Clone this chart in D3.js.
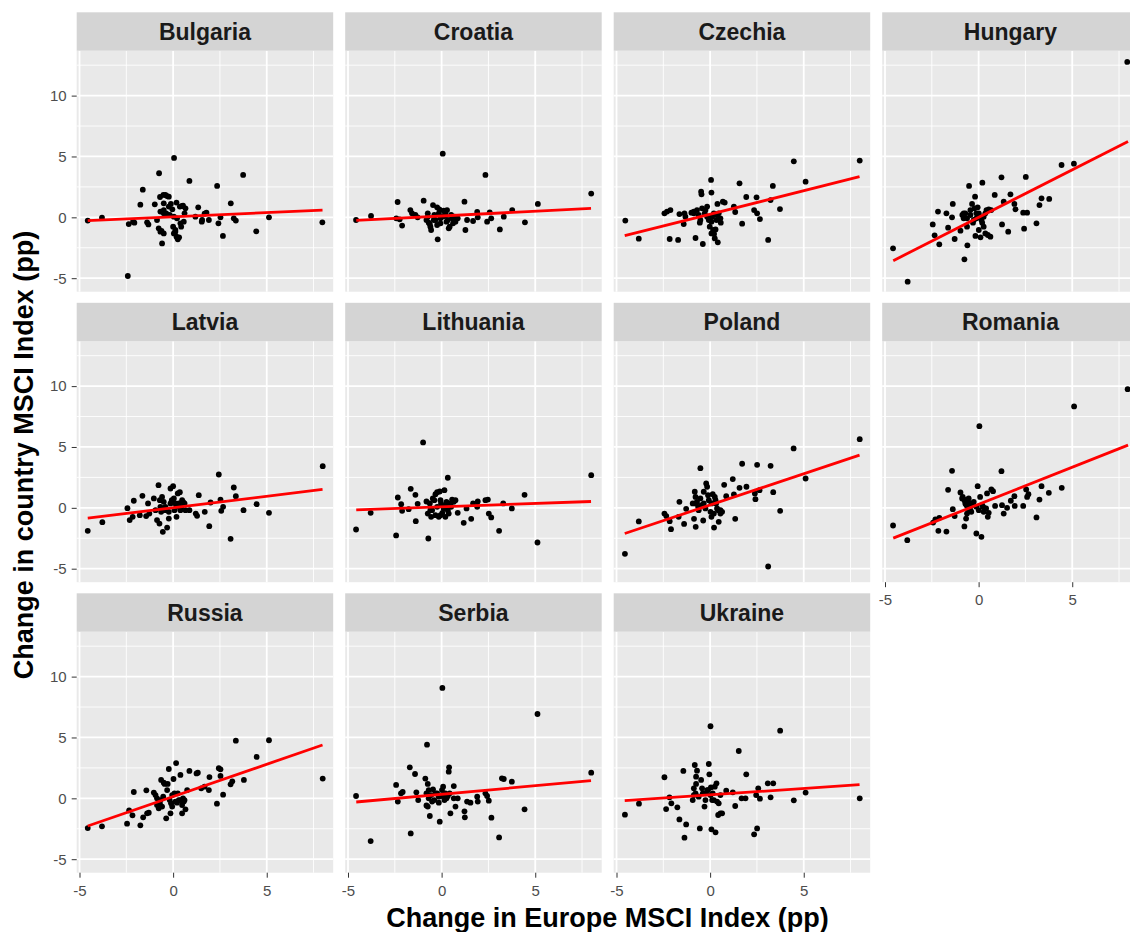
<!DOCTYPE html>
<html>
<head>
<meta charset="utf-8">
<script src="https://cdn.jsdelivr.net/npm/d3@7"></script>
<style>
  html, body { margin: 0; padding: 0; background: #ffffff; }
  svg { display: block; font-family: "Liberation Sans", Arial, Helvetica, sans-serif; }
</style>
</head>
<body>
<svg id="chart" width="1130" height="932"></svg>
<script>
// ---------- DATA ----------
const countries = ["Bulgaria", "Croatia", "Czechia", "Hungary", "Latvia", "Lithuania",
                   "Poland", "Romania", "Russia", "Serbia", "Ukraine"];

const bulgaria = [[-4.56,-0.27],[-3.80,-0.03],[-2.42,-4.82],[-2.37,-0.55],[-2.14,-0.36],[-2.07,-0.44],[-1.75,1.04],[-1.62,2.27],[-1.39,-0.41],[-1.32,-0.58],[-0.98,1.07],[-0.75,3.62],[-0.86,-0.22],[-0.77,-0.90],[-0.62,-1.12],[-0.59,-2.14],[-0.70,1.67],[-0.52,1.84],[-0.37,0.33],[-0.50,0.60],[-0.32,1.75],[-0.23,0.88],[-0.18,0.19],[-0.12,1.10],[-0.04,0.66],[0.05,4.88],[0.04,0.05],[0.00,-0.77],[0.04,-1.32],[0.12,-1.04],[0.18,1.21],[0.25,-1.81],[0.32,-1.64],[0.36,0.88],[0.43,-0.77],[0.53,0.96],[0.61,0.33],[0.66,0.74],[0.57,-0.36],[0.87,2.99],[1.19,0.05],[1.34,0.82],[1.53,-0.36],[1.68,0.30],[1.78,0.38],[1.91,-0.22],[2.35,2.58],[2.42,-0.49],[2.53,0.00],[2.66,-1.53],[3.08,1.15],[3.24,-0.08],[3.35,-0.27],[3.74,3.48],[4.44,-1.15],[5.12,0.00],[7.97,-0.41],
  [-0.41,1.84],[-0.23,1.70],[0.48,0.93],[-0.50,1.15],[-0.68,0.47],[-0.50,0.33],[0.21,-0.08],[0.39,-0.49],[-0.68,-1.18],[-0.50,-1.32],[0.12,-1.18],[0.18,-1.59],[1.55,-0.22]];
const croatia = [[-4.57,-0.22],[-3.77,0.11],[-2.35,1.26],[-2.42,-0.08],[-2.11,-0.68],[-2.24,-0.16],[-1.67,0.60],[-1.58,0.33],[-1.40,0.19],[-1.28,0.00],[-0.96,1.37],[-0.81,-0.22],[-0.74,0.33],[-0.69,-0.44],[-0.60,-0.77],[-0.56,-1.04],[-0.46,1.01],[-0.39,0.19],[-0.24,0.82],[-0.21,-1.81],[-0.12,0.66],[-0.06,-0.08],[0.02,0.05],[0.06,5.23],[0.11,0.55],[0.20,0.33],[0.26,-0.36],[0.33,-0.22],[0.43,-0.77],[0.51,0.19],[0.61,-0.49],[0.74,-0.36],[0.86,-0.08],[1.22,1.29],[1.27,-1.04],[1.36,-0.22],[1.68,-0.30],[1.90,0.44],[1.93,0.00],[2.34,3.48],[2.43,-0.36],[2.57,0.41],[2.65,-0.08],[3.11,-0.99],[3.32,0.05],[3.77,0.60],[4.45,-0.41],[5.14,1.10],[7.99,1.95],
  [-0.74,0.05],[-0.63,-0.55],[-0.33,-0.22],[-0.15,0.33],[-0.06,-0.49],[0.15,0.11],[0.29,0.60],[0.38,-0.90],[0.56,-0.08],[0.69,0.05],[-0.42,-0.22],[-0.24,-0.63]];
const czechia = [[-4.53,-0.27],[-3.81,-1.75],[-2.44,0.33],[-2.30,0.47],[-2.12,0.60],[-2.16,-1.78],[-1.71,-1.86],[-1.64,0.27],[-1.41,-0.55],[-1.37,0.33],[-1.32,0.05],[-1.00,0.38],[-0.87,0.47],[-0.78,-1.70],[-0.70,0.60],[-0.55,-0.44],[-0.48,2.11],[-0.46,1.89],[-0.39,-2.19],[-0.43,0.74],[-0.29,0.33],[-0.16,0.88],[-0.07,-0.22],[-0.02,-0.77],[0.05,3.07],[0.07,2.03],[0.11,0.05],[0.16,-1.04],[0.21,-1.37],[0.29,-0.99],[0.34,-0.22],[0.39,1.10],[0.41,-2.05],[0.46,0.33],[0.57,-0.44],[0.68,1.29],[0.78,1.21],[1.27,0.88],[1.34,0.44],[1.57,2.79],[1.71,-0.52],[1.93,1.67],[2.35,0.60],[2.48,1.64],[2.51,0.33],[2.66,-0.14],[3.10,-1.86],[3.23,1.42],[3.35,2.58],[3.73,0.68],[4.47,4.60],[5.10,2.93],[7.99,4.66],
  [-0.87,0.33],[-0.61,0.19],[-0.52,-0.22],[-0.25,0.60],[-0.16,0.05],[0.07,-0.36],[0.20,0.33],[0.37,0.19],[0.55,-0.08],[0.07,-1.32],[0.25,-1.73]];
const hungary = [[-4.57,-2.55],[-3.79,-5.29],[-2.45,-0.58],[-2.35,-1.48],[-2.17,0.47],[-2.10,-2.22],[-1.72,0.33],[-1.63,-0.85],[-1.42,0.00],[-1.38,1.10],[-1.28,-1.78],[-0.97,-1.10],[-0.87,0.19],[-0.80,-0.08],[-0.76,-3.45],[-0.71,0.33],[-0.62,-0.77],[-0.60,-2.30],[-0.51,2.58],[-0.44,0.60],[-0.35,1.10],[-0.26,-0.22],[-0.19,1.70],[-0.17,-1.53],[-0.12,0.33],[-0.05,0.82],[0.01,-1.04],[0.10,-1.64],[0.15,-0.22],[0.20,2.85],[0.27,-0.77],[0.36,-1.32],[0.42,0.60],[0.49,-1.45],[0.63,-1.59],[0.67,0.60],[0.86,1.84],[1.22,3.29],[1.25,-0.58],[1.34,1.29],[1.58,-1.18],[1.70,1.89],[1.91,1.10],[1.97,0.66],[2.38,0.38],[2.43,-0.93],[2.52,3.32],[2.59,0.38],[3.09,-0.49],[3.25,1.01],[3.36,1.56],[3.77,1.51],[4.43,4.30],[5.09,4.41],[7.94,12.77],
  [-0.80,0.33],[-0.62,-0.08],[-0.44,0.19],[-0.30,-0.44],[-0.12,-0.08],[0.01,0.33],[0.19,-0.44],[0.27,0.05],[0.36,0.33],[0.54,0.66],[-0.22,0.74]];
const latvia = [[-4.56,-1.89],[-3.78,-1.18],[-2.44,-0.03],[-2.32,-1.01],[-2.16,-0.74],[-2.10,0.58],[-1.78,-0.60],[-1.64,0.99],[-1.44,-0.68],[-1.34,0.36],[-1.27,-0.47],[-1.03,0.77],[-0.94,-0.19],[-0.86,-1.01],[-0.78,1.86],[-0.73,-1.29],[-0.68,0.08],[-0.59,0.90],[-0.55,-1.97],[-0.50,0.49],[-0.45,-0.19],[-0.32,-1.62],[-0.23,-0.88],[-0.14,1.59],[-0.07,0.63],[0.00,1.78],[0.07,-0.19],[0.12,0.36],[0.18,-0.74],[0.25,1.18],[0.36,1.29],[0.43,0.08],[0.53,0.49],[0.61,0.36],[0.66,-0.19],[0.87,-0.19],[1.21,-0.47],[1.28,-0.66],[1.37,1.04],[1.69,-0.33],[1.93,-1.51],[2.00,0.44],[2.44,2.74],[2.53,0.68],[2.57,-0.25],[2.67,0.08],[3.07,-2.55],[3.24,1.67],[3.35,0.96],[3.76,-0.19],[4.46,0.30],[5.12,-0.41],[7.99,3.42],
  [-0.41,0.08],[-0.23,-0.33],[-0.14,0.36],[0.04,0.77],[0.18,0.08],[0.30,0.36],[0.39,-0.19],[0.48,0.63],[-0.64,-0.33],[-0.71,0.63]];
const lithuania = [[-4.57,-1.78],[-3.79,-0.41],[-2.43,-2.27],[-2.34,0.85],[-2.16,0.30],[-2.11,-0.25],[-1.76,-0.11],[-1.65,1.56],[-1.40,1.07],[-1.38,-1.10],[-1.28,0.33],[-0.99,5.37],[-0.81,0.52],[-0.71,-2.52],[-0.74,-0.47],[-0.60,-0.19],[-0.56,-0.74],[-0.47,0.77],[-0.39,0.63],[-0.33,-0.60],[-0.24,1.29],[-0.15,-0.74],[-0.10,1.34],[-0.03,0.36],[0.04,-0.41],[0.15,1.45],[0.20,-0.74],[0.26,0.49],[0.33,2.47],[0.38,-0.47],[0.47,0.36],[0.56,0.68],[0.65,0.49],[0.74,0.63],[0.86,-0.41],[1.18,-1.23],[1.33,-0.05],[1.58,-0.90],[1.68,0.36],[1.90,0.08],[1.93,0.52],[2.34,0.63],[2.47,0.68],[2.52,-0.47],[2.65,-0.79],[3.07,-1.89],[3.29,0.36],[3.75,-0.05],[4.43,1.07],[5.12,-2.85],[7.99,2.68],
  [-0.63,0.36],[-0.51,-0.19],[-0.24,0.08],[-0.06,0.63],[0.11,-0.05],[0.22,0.22],[0.33,-0.19],[0.51,0.08],[-0.06,-0.60],[-0.33,1.12]];
const poland = [[-4.55,-3.78],[-3.81,-1.12],[-2.44,-0.47],[-2.34,-0.68],[-2.16,-1.10],[-2.09,-1.75],[-1.68,-0.74],[-1.64,0.49],[-1.39,-1.32],[-1.28,-0.08],[-0.93,0.36],[-0.86,-0.90],[-0.82,1.32],[-0.78,0.90],[-0.77,-1.56],[-0.70,0.49],[-0.64,0.08],[-0.52,3.26],[-0.46,0.22],[-0.37,-1.04],[-0.34,1.32],[-0.21,2.00],[-0.16,1.73],[-0.07,0.63],[0.02,-0.33],[0.07,-0.74],[0.14,1.12],[0.21,-1.62],[0.25,0.90],[0.32,0.36],[0.37,-0.05],[0.46,-1.15],[0.55,-0.19],[0.64,-0.33],[0.75,1.89],[0.86,0.96],[1.21,2.36],[1.27,1.10],[1.34,-0.90],[1.57,1.64],[1.71,3.62],[1.94,1.73],[2.39,1.18],[2.42,0.71],[2.51,3.53],[2.64,1.45],[3.10,-4.82],[3.23,3.45],[3.37,1.29],[3.74,-0.25],[4.46,4.88],[5.10,2.41],[7.99,5.64],
  [-0.78,0.36],[-0.61,-0.19],[-0.52,0.77],[-0.34,0.36],[-0.25,-0.05],[-0.11,1.04],[0.07,0.36],[0.20,-0.47],[0.29,0.63],[0.43,-0.19],[0.55,-0.47]];
const romania = [[-4.57,-1.45],[-3.81,-2.66],[-2.43,-1.21],[-2.31,-0.96],[-2.15,-1.89],[-2.10,-0.82],[-1.72,-1.95],[-1.63,1.48],[-1.42,3.04],[-1.38,-0.11],[-1.28,-0.68],[-0.97,1.26],[-0.85,0.90],[-0.76,-1.53],[-0.71,0.36],[-0.67,-0.88],[-0.62,0.68],[-0.55,-0.05],[-0.47,0.36],[-0.39,-0.33],[-0.28,0.22],[-0.12,-2.11],[-0.05,1.78],[0.04,6.71],[0.08,0.90],[0.15,-2.38],[0.24,0.08],[0.33,-0.05],[0.40,-0.05],[0.45,1.18],[0.49,-0.74],[0.54,-0.41],[0.68,1.51],[0.77,1.37],[0.88,0.16],[1.22,3.01],[1.25,0.22],[1.34,-0.47],[1.52,0.00],[1.72,0.58],[1.91,0.96],[1.93,0.16],[2.38,0.16],[2.54,1.51],[2.59,0.90],[2.66,1.12],[3.09,-0.79],[3.25,0.68],[3.36,1.78],[3.75,1.23],[4.44,1.64],[5.10,8.33],[7.96,9.75],
  [-0.88,0.77],[-0.76,0.63],[-0.65,0.22],[-0.53,0.77],[-0.44,-0.19],[-0.26,0.49],[-0.12,0.08],[0.01,-0.19],[0.19,0.22],[0.27,-0.33],[-0.62,-0.47]];
const russia = [[-4.56,-2.44],[-3.80,-2.30],[-2.46,-2.08],[-2.35,-0.99],[-2.17,-1.40],[-2.10,0.52],[-1.75,-2.22],[-1.60,-1.56],[-1.43,0.66],[-1.39,-1.23],[-1.30,-1.18],[-1.03,0.47],[-0.94,0.27],[-0.86,-0.55],[-0.77,-0.82],[-0.68,-0.14],[-0.64,1.51],[-0.59,-0.68],[-0.50,1.29],[-0.45,1.18],[-0.37,-1.64],[-0.29,1.18],[-0.23,2.41],[-0.14,-1.23],[-0.11,-0.41],[-0.05,-0.68],[0.02,1.59],[0.07,0.41],[0.16,2.90],[0.21,-0.36],[0.30,-0.14],[0.39,1.92],[0.48,-1.23],[0.53,0.00],[0.57,-0.27],[0.66,-0.90],[0.75,0.68],[0.87,2.25],[1.25,2.05],[1.32,2.11],[1.50,0.82],[1.68,0.96],[1.91,0.68],[1.94,1.75],[2.34,-0.44],[2.44,2.47],[2.53,2.38],[2.53,1.84],[2.67,0.30],[3.07,1.15],[3.16,1.40],[3.35,4.74],[3.78,1.51],[4.46,3.40],[5.12,4.77],[7.99,1.62],
  [-0.86,0.00],[-0.71,-0.41],[-0.53,0.14],[-0.32,0.68],[-0.18,-0.14],[-0.05,0.27],[0.12,-0.27],[0.25,0.41],[0.39,-0.14],[0.48,-0.55],[0.61,-0.14]];
const serbia = [[-4.57,0.19],[-3.79,-3.51],[-2.43,1.10],[-2.34,-0.27],[-2.17,0.41],[-2.08,0.52],[-1.70,2.55],[-1.65,-2.88],[-1.42,2.00],[-1.35,0.49],[-1.25,-0.14],[-0.87,1.62],[-0.81,-0.58],[-0.74,1.18],[-0.69,0.68],[-0.78,4.41],[-0.63,-1.45],[-0.56,0.27],[-0.46,0.74],[-0.39,-0.14],[-0.24,0.41],[-0.15,-0.36],[-0.10,-1.92],[-0.03,0.19],[0.04,9.07],[0.08,0.96],[0.15,-0.14],[0.20,0.41],[0.33,0.19],[0.38,2.19],[0.40,2.55],[0.47,-1.23],[0.65,1.01],[0.74,-0.68],[0.86,0.00],[1.22,-1.07],[1.24,-1.56],[1.36,-0.27],[1.54,-0.36],[1.90,0.14],[1.93,-0.27],[2.34,0.41],[2.43,0.19],[2.52,-0.19],[2.66,-1.59],[3.07,-3.21],[3.22,1.64],[3.32,1.59],[3.75,1.37],[4.43,-0.90],[5.12,6.93],[7.99,2.11],
  [-0.81,0.41],[-0.69,0.00],[-0.51,-0.27],[-0.33,0.41],[-0.15,0.14],[0.02,0.68],[0.11,0.27],[0.26,0.00],[0.43,0.41],[0.65,0.00],[-0.74,-0.68]];
const ukraine = [[-4.55,-1.34],[-3.80,-0.44],[-2.44,1.73],[-2.35,-0.88],[-2.17,0.08],[-2.07,-0.41],[-1.75,-0.74],[-1.64,-1.73],[-1.43,2.25],[-1.37,-3.23],[-1.28,-2.14],[-0.93,-0.14],[-0.87,0.27],[-0.82,2.74],[-0.75,1.18],[-0.70,2.27],[-0.55,-2.47],[-0.48,1.51],[-0.43,0.82],[-0.30,-0.68],[-0.25,0.41],[-0.16,0.68],[-0.07,2.82],[-0.04,1.97],[0.02,5.92],[0.04,0.90],[0.07,-2.55],[0.14,0.41],[0.20,-0.14],[0.29,-2.79],[0.34,1.23],[0.43,-1.37],[0.46,-0.41],[0.55,0.27],[0.64,-1.23],[0.86,0.63],[1.21,0.49],[1.34,-0.63],[1.53,3.89],[1.68,0.00],[1.89,0.00],[1.93,1.97],[2.35,-2.96],[2.46,0.27],[2.51,-2.47],[2.57,0.82],[2.66,-0.03],[3.08,1.23],[3.23,0.08],[3.37,1.23],[3.74,5.56],[4.47,-0.16],[5.10,0.47],[7.99,0.00],
  [-0.87,0.82],[-0.78,0.41],[-0.61,0.14],[-0.39,0.41],[-0.25,-0.14],[-0.11,0.68],[0.02,0.27],[0.11,-0.14],[0.25,0.96],[0.37,-0.27],[0.55,-1.23],[-0.75,1.78]];

// fitted (lm) line end values, read at the ends of the x range
const fitX    = [-4.56, 7.98];
const fitLow  = [-0.27, -0.25, -1.51, -3.56, -0.85, -0.16, -2.11, -2.49, -2.27, -0.30, -0.19];
const fitHigh = [ 0.60,  0.74,  3.34,  6.22,  1.51,  0.52,  4.33,  5.15,  4.38,  1.45,  1.12];

const xTicks = [-5, 0, 5];
const xMinor = [-2.5, 2.5, 7.5];
const yTicks = [-5, 0, 5, 10];
const yMinor = [-2.5, 2.5, 7.5, 12.5];
const xTitle = "Change in Europe MSCI Index (pp)";
const yTitle = "Change in country MSCI Index (pp)";

const seriesList = [bulgaria, croatia, czechia, hungary, latvia, lithuania, poland, romania, russia, serbia, ukraine];

// ---------- LAYOUT ----------
const svg = d3.select("#chart");
const FONT = '"Liberation Sans", Arial, Helvetica, sans-serif';
const panelW = 256.5, panelH = 241, stripH = 38.4;
const left0 = 76.7, top0 = 50.7, colStep = 268.5, rowStep = 290.5;
const xDomain = [-5.15, 8.55], yDomain = [-6.11, 13.69];
const fmt = d => String(d); // ASCII hyphen-minus like the reference

countries.forEach((name, i) => {
  const col = i % 4, row = Math.floor(i / 4);
  const L = left0 + col * colStep, T = top0 + row * rowStep;
  const x = d3.scaleLinear().domain(xDomain).range([L, L + panelW]);
  const y = d3.scaleLinear().domain(yDomain).range([T + panelH, T]);
  const g = svg.append("g").attr("class", "panel");

  g.append("rect").attr("x", L).attr("y", T).attr("width", panelW).attr("height", panelH).attr("fill", "#E9E9E9");

  // minor grid
  g.selectAll(".xmin").data(xMinor).join("line")
    .attr("x1", d => x(d)).attr("x2", d => x(d)).attr("y1", T).attr("y2", T + panelH)
    .attr("stroke", "#ffffff").attr("stroke-width", 0.9);
  g.selectAll(".ymin").data(yMinor).join("line")
    .attr("y1", d => y(d)).attr("y2", d => y(d)).attr("x1", L).attr("x2", L + panelW)
    .attr("stroke", "#ffffff").attr("stroke-width", 0.9);
  // major grid
  g.selectAll(".xmaj").data(xTicks).join("line")
    .attr("x1", d => x(d)).attr("x2", d => x(d)).attr("y1", T).attr("y2", T + panelH)
    .attr("stroke", "#ffffff").attr("stroke-width", 1.8);
  g.selectAll(".ymaj").data(yTicks).join("line")
    .attr("y1", d => y(d)).attr("y2", d => y(d)).attr("x1", L).attr("x2", L + panelW)
    .attr("stroke", "#ffffff").attr("stroke-width", 1.8);

  // points
  g.append("g").selectAll("circle").data(seriesList[i]).join("circle")
    .attr("cx", d => x(d[0])).attr("cy", d => y(d[1])).attr("r", 2.9).attr("fill", "#000000");

  // fit line
  const line = d3.line().x(d => x(d[0])).y(d => y(d[1]));
  g.append("path").datum([[fitX[0], fitLow[i]], [fitX[1], fitHigh[i]]])
    .attr("d", line).attr("fill", "none").attr("stroke", "#FF0000").attr("stroke-width", 2.8);

  // strip
  g.append("rect").attr("x", L).attr("y", T - stripH).attr("width", panelW).attr("height", stripH).attr("fill", "#D4D4D4");
  g.append("text").attr("x", L + panelW / 2).attr("y", T - stripH / 2).attr("dy", "0.36em")
    .attr("text-anchor", "middle").attr("font-family", FONT).attr("font-size", 23).attr("font-weight", "bold")
    .attr("fill", "#1A1A1A").text(name);

  // axes
  if (col === 0) {
    const ay = g.append("g").attr("transform", `translate(${L},0)`)
      .call(d3.axisLeft(y).tickValues(yTicks).tickSize(5).tickPadding(5).tickFormat(fmt));
    ay.select(".domain").remove();
    ay.selectAll("line").attr("stroke", "#333333").attr("stroke-width", 1);
    ay.selectAll("text").attr("font-family", FONT).attr("font-size", 15).attr("fill", "#4D4D4D");
  }
  if (i + 4 >= countries.length) {
    const ax = g.append("g").attr("transform", `translate(0,${T + panelH})`)
      .call(d3.axisBottom(x).tickValues(xTicks).tickSize(5).tickPadding(7.5).tickFormat(fmt));
    ax.select(".domain").remove();
    ax.selectAll("line").attr("stroke", "#333333").attr("stroke-width", 1);
    ax.selectAll("text").attr("font-family", FONT).attr("font-size", 15).attr("fill", "#4D4D4D");
  }
});

// axis titles
svg.append("text").attr("x", 607.5).attr("y", 927).attr("text-anchor", "middle")
  .attr("font-family", FONT).attr("font-size", 27).attr("font-weight", "bold").attr("fill", "#000")
  .text(xTitle);
svg.append("text").attr("transform", "translate(33,455) rotate(-90)").attr("text-anchor", "middle")
  .attr("font-family", FONT).attr("font-size", 27).attr("font-weight", "bold").attr("fill", "#000")
  .text(yTitle);
</script>
</body>
</html>
